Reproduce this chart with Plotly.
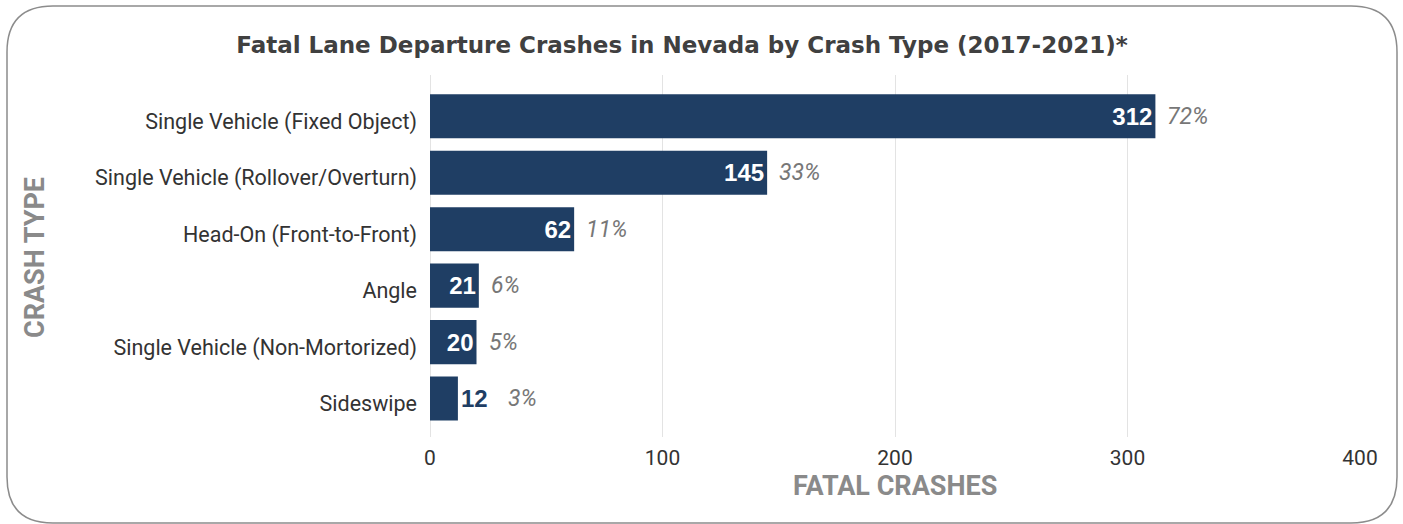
import plotly.graph_objects as go

categories = [
    "Single Vehicle (Fixed Object)",
    "Single Vehicle (Rollover/Overturn)",
    "Head-On (Front-to-Front)",
    "Angle",
    "Single Vehicle (Non-Mortorized)",
    "Sideswipe",
]
crashes = [312, 145, 62, 21, 20, 12]
percents = ["72%", "33%", "11%", "6%", "5%", "3%"]
text_pos = ["inside", "inside", "inside", "inside", "inside", "outside"]
x_ticks = [0, 100, 200, 300, 400]

W, H = 1403, 524
L, R, T, B = 430, 43, 75, 87
NAVY = "#1F3E64"
GRAYT = "#8a8a8a"

fig = go.Figure()
fig.add_trace(go.Bar(
    y=categories, x=crashes, orientation="h",
    marker=dict(color=NAVY, line=dict(width=0)),
    text=[str(v) for v in crashes],
    textposition=text_pos,
    insidetextanchor="end",
    insidetextfont=dict(color="white", size=24, family="Liberation Sans"),
    outsidetextfont=dict(color=NAVY, size=24, family="Liberation Sans"),
    texttemplate="<b>%{text}</b>",
    cliponaxis=False,
    hoverinfo="skip",
))

for c, v, p, pos in zip(categories, crashes, percents, text_pos):
    fig.add_annotation(
        x=v, y=c, xref="x", yref="y", text="<i>" + p + "</i>",
        showarrow=False, xanchor="left",
        xshift=(48 if pos == "outside" else 10),
        font=dict(size=23, color="#777777", family="Roboto"),
    )

pw, ph = W - L - R, H - T - B
def px(X):
    return (X - L) / pw
def py(Y):
    return (H - B - Y) / ph

# axis titles
fig.add_annotation(x=px(895), y=py(486), xref="paper", yref="paper",
                   text="<b>FATAL CRASHES</b>", showarrow=False,
                   xanchor="center", yanchor="middle",
                   font=dict(size=27, color=GRAYT, family="Roboto"))
fig.add_annotation(x=px(35), y=py(258), xref="paper", yref="paper",
                   text="<b>CRASH TYPE</b>", showarrow=False, textangle=-90,
                   xanchor="center", yanchor="middle",
                   font=dict(size=27, color=GRAYT, family="Roboto"))

x0, x1, y0, y1, r = 7, 1397, 6, 523, 46
path = (
    f"M {px(x0 + r)},{py(y0)} L {px(x1 - r)},{py(y0)} "
    f"Q {px(x1)},{py(y0)} {px(x1)},{py(y0 + r)} "
    f"L {px(x1)},{py(y1 - r)} "
    f"Q {px(x1)},{py(y1)} {px(x1 - r)},{py(y1)} "
    f"L {px(x0 + r)},{py(y1)} "
    f"Q {px(x0)},{py(y1)} {px(x0)},{py(y1 - r)} "
    f"L {px(x0)},{py(y0 + r)} "
    f"Q {px(x0)},{py(y0)} {px(x0 + r)},{py(y0)} Z"
)
fig.add_shape(type="path", path=path, xref="paper", yref="paper",
              line=dict(color="#8c8c8c", width=1.5), layer="below")

fig.update_layout(
    width=W, height=H,
    margin=dict(l=L, r=R, t=T, b=B),
    paper_bgcolor="white", plot_bgcolor="white",
    showlegend=False,
    bargap=0.22,
    title=dict(
        text="<b>Fatal Lane Departure Crashes in Nevada by Crash Type (2017-2021)*</b>",
        x=682 / W, xref="container", xanchor="center",
        y=1 - 45 / H, yanchor="middle",
        font=dict(size=23, color="#404040", family="DejaVu Sans"),
    ),
    xaxis=dict(
        range=[0, 400], tickvals=x_ticks,
        showgrid=True, gridcolor="#e3e3e3", gridwidth=1,
        zeroline=True, zerolinecolor="#e3e3e3", zerolinewidth=1,
        showline=False, ticks="", ticklabelstandoff=6,
        tickfont=dict(size=21, color="#333333", family="Roboto"),
        fixedrange=True,
    ),
    yaxis=dict(
        autorange=False, range=[5.68, -0.73], type="category",
        showgrid=False, zeroline=False, showline=False,
        ticks="", ticklabelstandoff=12, ticklabelshift=-5,
        tickfont=dict(size=21.5, color="#333333", family="Roboto"),
        fixedrange=True,
    ),
)

fig.write_html("out.html", config={"displayModeBar": False},
               post_script="document.body.style.margin='0';")
